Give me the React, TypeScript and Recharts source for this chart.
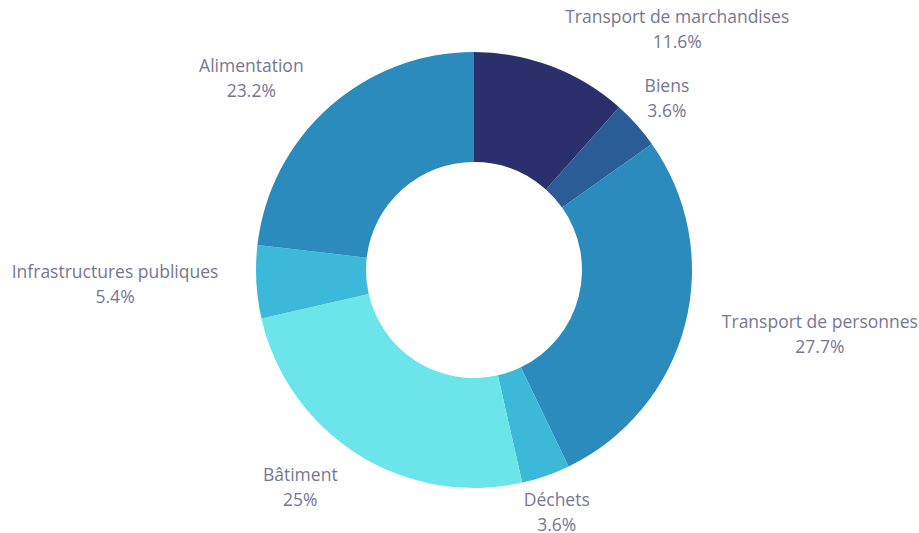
import React from 'react';
import { PieChart, Pie, Cell } from 'recharts';

const categories = [
  'Transport de marchandises',
  'Biens',
  'Transport de personnes',
  'Déchets',
  'Bâtiment',
  'Infrastructures publiques',
  'Alimentation',
];
const shares = [11.6, 3.6, 27.7, 3.6, 25, 5.4, 23.2];
const colors = ['#2b2f6b', '#2a5c98', '#2a8bbc', '#3cb8d8', '#6ce5ea', '#3cb9d8', '#2a8bbc'];

const data = categories.map((name, i) => ({ name, value: shares[i] }));

const FONT = '17.5px "Open Sans"';
const RADIAN = Math.PI / 180;

let ctx: CanvasRenderingContext2D | null = null;
const textWidth = (s: string) => {
  if (!ctx) ctx = document.createElement('canvas').getContext('2d');
  if (!ctx) return s.length * 9;
  ctx.font = FONT;
  return ctx.measureText(s).width;
};

// distance from the pie centre to a label box
const boxDist = (cx: number, cy: number, bx: number, by: number, hw: number, hh: number) => {
  const dx = Math.max(bx - hw - cx, 0, cx - (bx + hw));
  const dy = Math.max(by - hh - cy, 0, cy - (by + hh));
  return Math.sqrt(dx * dx + dy * dy);
};

// outside label: wide labels swing out, short ones just clear the ring
const renderLabel = (props: any) => {
  const { cx, cy, midAngle, outerRadius, name, value } = props;
  const c = Math.cos(-midAngle * RADIAN);
  const s = Math.sin(midAngle * RADIAN);
  const r = outerRadius + 18;
  const px = cx + r * c;
  const py = cy - r * s;
  const half = Math.max(textWidth(name), textWidth(`${value}%`)) / 2;
  const y = py - 21 * s;
  let x = px + Math.sign(c) * half + 20 * c;
  if (half < 35) {
    let shift = 0;
    while (shift < 200 && boxDist(cx, cy, px + Math.sign(c) * shift, y, half, 22) < outerRadius + 8) shift += 1;
    x = px + Math.sign(c) * shift;
  }
  return (
    <text x={x} y={y} textAnchor="middle" fill="#767793" style={{ font: FONT }}>
      <tspan x={x} y={y - 12.5} dy="0.35em">{name}</tspan>
      <tspan x={x} y={y + 12.5} dy="0.35em">{`${value}%`}</tspan>
    </text>
  );
};

export default function App() {
  return (
    <div style={{ position: 'absolute', left: 0, top: 0, background: '#fff' }}>
      <PieChart width={919} height={533} margin={{ top: 0, right: 0, bottom: 0, left: 0 }}>
        <Pie
          data={data}
          dataKey="value"
          nameKey="name"
          cx={474}
          cy={270}
          innerRadius={108}
          outerRadius={218}
          startAngle={90}
          endAngle={-270}
          stroke="none"
          labelLine={false}
          label={renderLabel}
          isAnimationActive={false}
        >
          {data.map((entry, i) => (
            <Cell key={`cell-${i}`} fill={colors[i]} />
          ))}
        </Pie>
      </PieChart>
    </div>
  );
}
